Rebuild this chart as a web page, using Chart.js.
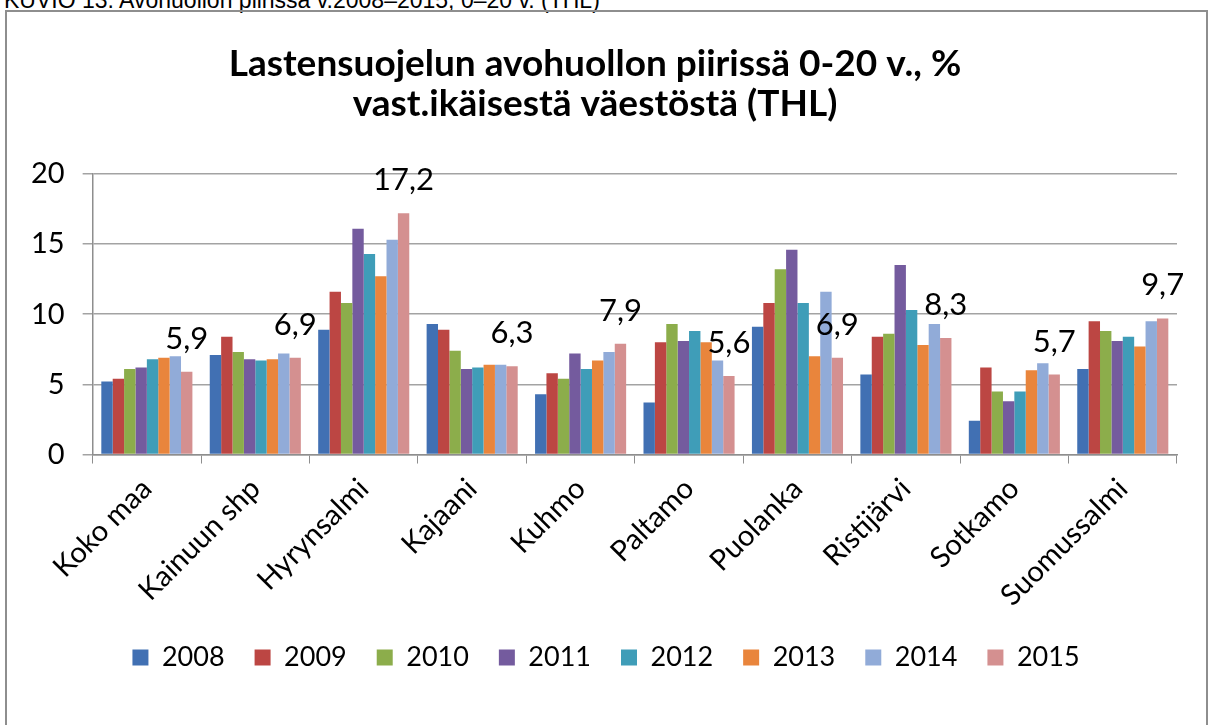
<!DOCTYPE html>
<html>
<head>
<meta charset="utf-8">
<script src="https://cdn.jsdelivr.net/npm/chart.js@4/dist/chart.umd.min.js"></script>
<style>
  body { margin: 0; background: #fff; overflow: hidden; }
  #caption { position: absolute; left: 4px; top: -11px; font: 23px "Liberation Sans", Arial, sans-serif; line-height: 23px; color: #000; white-space: nowrap; }
  #frame { position: absolute; left: 5px; top: 10px; width: 1199px; height: 800px; border: 2px solid #8e8e8e; }
  #wrap { position: absolute; left: 0; top: 0; width: 1210px; height: 725px; }
</style>
</head>
<body>
<div id="caption">KUVIO 13. Avohuollon piirissä v.2008–2015, 0–20 v. (THL)</div>
<div id="frame"></div>
<div id="wrap"><canvas id="chart"></canvas></div>
<script>
// Kunnat / alueet
const categories = ['Koko maa', 'Kainuun shp', 'Hyrynsalmi', 'Kajaani', 'Kuhmo',
                    'Paltamo', 'Puolanka', 'Ristijärvi', 'Sotkamo', 'Suomussalmi'];
const years = ['2008', '2009', '2010', '2011', '2012', '2013', '2014', '2015'];

// % vastaavanikäisestä väestöstä, luettu kuvasta
const v2008 = [5.2, 7.1, 8.9, 9.3, 4.3, 3.7, 9.1, 5.7, 2.4, 6.1];
const v2009 = [5.4, 8.4, 11.6, 8.9, 5.8, 8.0, 10.8, 8.4, 6.2, 9.5];
const v2010 = [6.1, 7.3, 10.8, 7.4, 5.4, 9.3, 13.2, 8.6, 4.5, 8.8];
const v2011 = [6.2, 6.8, 16.1, 6.1, 7.2, 8.1, 14.6, 13.5, 3.8, 8.1];
const v2012 = [6.8, 6.7, 14.3, 6.2, 6.1, 8.8, 10.8, 10.3, 4.5, 8.4];
const v2013 = [6.9, 6.8, 12.7, 6.4, 6.7, 8.0, 7.0, 7.8, 6.0, 7.7];
const v2014 = [7.0, 7.2, 15.3, 6.4, 7.3, 6.7, 11.6, 9.3, 6.5, 9.5];
const v2015 = [5.9, 6.9, 17.2, 6.3, 7.9, 5.6, 6.9, 8.3, 5.7, 9.7];

const yTicks = [0, 5, 10, 15, 20];

const colors = ['#4170b3', '#bc4643', '#8cad4b', '#745b9e', '#3f9db8', '#e9853c', '#91abd8', '#d49090'];
const values = [v2008, v2009, v2010, v2011, v2012, v2013, v2014, v2015];

const fontFamily = 'Lato, "Open Sans", sans-serif';

// Arvot vain vuoden 2015 pylväiden yläpuolelle
const lastLabels = {
    id: 'lastLabels',
    afterLayout(chart) {
        // selite hieman oikealle kuten alkuperäisessä
        chart.legend.left += 11;
        chart.legend.right += 11;
    },
    afterDatasetsDraw(chart) {
        const meta = chart.getDatasetMeta(7);
        const ctx = chart.ctx;
        ctx.save();
        ctx.font = '31px ' + fontFamily;
        ctx.fillStyle = '#000';
        ctx.textAlign = 'center';
        ctx.textBaseline = 'middle';
        meta.data.forEach((bar, i) => {
            const txt = v2015[i].toFixed(1).replace('.', ',');
            ctx.fillText(txt, bar.x, bar.y - 33);
        });
        ctx.restore();
    }
};

new Chart(document.getElementById('chart'), {
    type: 'bar',
    data: {
        labels: categories,
        datasets: years.map((y, i) => ({
            label: y,
            data: values[i],
            backgroundColor: colors[i],
            borderWidth: 0,
            categoryPercentage: 0.84,
            barPercentage: 1.0
        }))
    },
    options: {
        responsive: true,
        maintainAspectRatio: false,
        animation: false,
        layout: { padding: { left: 13, right: 33, top: 0, bottom: 44 } },
        plugins: {
            title: {
                display: true,
                text: ['Lastensuojelun avohuollon piirissä 0-20 v., %', 'vast.ikäisestä väestöstä (THL)'],
                font: { family: fontFamily, size: 37, weight: 'bold', lineHeight: 1.08 },
                color: '#000',
                padding: { top: 44, bottom: 50 }
            },
            legend: {
                position: 'bottom',
                labels: {
                    font: { family: fontFamily, size: 27 },
                    color: '#000',
                    boxWidth: 16,
                    boxHeight: 16,
                    padding: 30
                }
            },
            tooltip: { enabled: false }
        },
        scales: {
            x: {
                grid: { display: true, drawOnChartArea: false, offset: true, color: '#8e8e8e', tickLength: 9 },
                border: { color: '#8e8e8e', width: 1.5 },
                ticks: {
                    font: { family: fontFamily, size: 29 },
                    color: '#000',
                    minRotation: 45,
                    maxRotation: 45,
                    padding: 8
                },
                afterFit(axis) { axis.height -= 7; }
            },
            y: {
                min: 0,
                max: 20,
                afterBuildTicks(axis) { axis.ticks = yTicks.map(v => ({ value: v })); },
                grid: { color: '#a3a3a3', lineWidth: 1.5, tickLength: 10 },
                border: { color: '#8e8e8e', width: 1.5 },
                ticks: {
                    font: { family: fontFamily, size: 29 },
                    color: '#000',
                    padding: 18
                }
            }
        }
    },
    plugins: [lastLabels]
});
</script>
</body>
</html>
